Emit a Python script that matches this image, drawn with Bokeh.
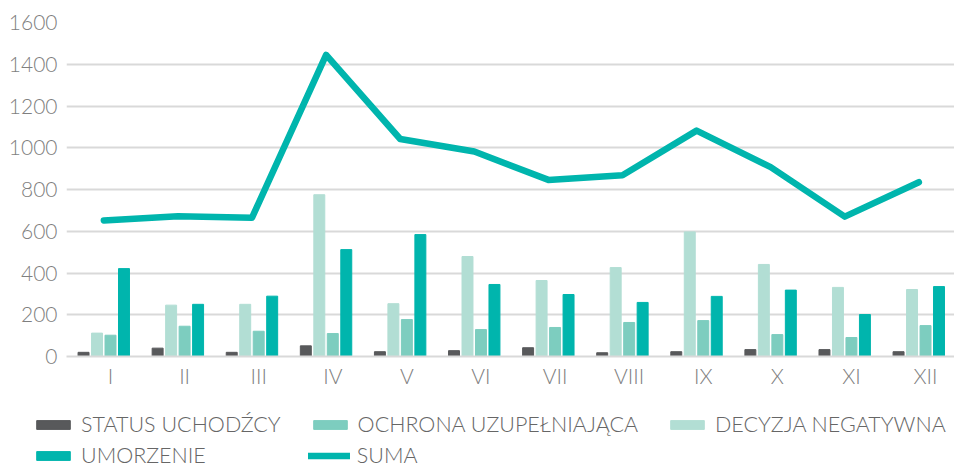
from bokeh.plotting import figure
from bokeh.layouts import column, row
from bokeh.models import Range1d, FixedTicker, Legend, LegendItem, ColumnDataSource
from bokeh.transform import dodge
from bokeh.embed import file_html
from bokeh.resources import INLINE

# ---- data ----
months = ["I", "II", "III", "IV", "V", "VI", "VII", "VIII", "IX", "X", "XI", "XII"]
status_uchodzcy = [20, 40, 20, 51, 23, 28, 42, 18, 23, 33, 33, 23]
decyzja_negatywna = [112, 246, 250, 775, 253, 479, 364, 426, 597, 441, 331, 321]
ochrona_uzupelniajaca = [102, 145, 121, 110, 177, 129, 139, 163, 172, 105, 91, 148]
umorzenie = [421, 250, 289, 512, 584, 345, 297, 259, 288, 318, 201, 335]
suma = [652, 672, 665, 1445, 1042, 982, 846, 868, 1082, 907, 670, 835]
y_ticks = [0, 200, 400, 600, 800, 1000, 1200, 1400, 1600]
series_labels = ["STATUS UCHODŹCY", "OCHRONA UZUPEŁNIAJĄCA", "DECYZJA NEGATYWNA",
                 "UMORZENIE", "SUMA"]

# ---- styles ----
C_STATUS = "#58595b"
C_OCHRONA = "#7dcdbf"
C_DECYZJA = "#b2ded4"
C_UMORZ = "#00b5ad"
GRID = "#d9d9d9"
FONT = "Lato Light, Lato"

xs = list(range(1, len(months) + 1))
src = ColumnDataSource(dict(
    x=xs, status=status_uchodzcy, decyzja=decyzja_negatywna,
    ochrona=ochrona_uzupelniajaca, umorz=umorzenie, suma=suma,
))

p = figure(width=954, height=400, output_backend="svg", toolbar_location=None,
           x_range=Range1d(0.406, 12.391), y_range=Range1d(0, 1600),
           min_border_left=66, min_border_right=0, min_border_top=22,
           min_border_bottom=44)
p.outline_line_color = None
p.background_fill_color = "white"
p.border_fill_color = "white"

bw = 0.148
slot = 0.182
p.vbar(x=dodge("x", -2 * slot, range=p.x_range), top="status", width=bw,
       source=src, color=C_STATUS)
p.vbar(x=dodge("x", -slot, range=p.x_range), top="decyzja", width=bw,
       source=src, color=C_DECYZJA)
p.vbar(x=dodge("x", 0, range=p.x_range), top="ochrona", width=bw,
       source=src, color=C_OCHRONA)
p.vbar(x=dodge("x", slot, range=p.x_range), top="umorz", width=bw,
       source=src, color=C_UMORZ)
p.line(x=dodge("x", -0.09, range=p.x_range), y="suma", source=src,
       line_color=C_UMORZ, line_width=6.5, line_cap="round", line_join="round")

# axes
p.xgrid.grid_line_color = None
p.ygrid.ticker = FixedTicker(ticks=y_ticks)
p.ygrid.grid_line_color = GRID
p.ygrid.grid_line_width = 2

p.yaxis.ticker = FixedTicker(ticks=y_ticks)
p.yaxis.axis_line_color = None
p.yaxis.major_tick_line_color = None
p.yaxis.minor_tick_line_color = None
p.yaxis.major_label_text_font = FONT
p.yaxis.major_label_text_font_size = "21px"
p.yaxis.major_label_text_color = "#7f7f7f"
p.yaxis.major_label_standoff = 3

p.xaxis.ticker = FixedTicker(ticks=xs)
p.xaxis.major_label_overrides = {x: m for x, m in zip(xs, months)}
p.xaxis.axis_line_color = GRID
p.xaxis.axis_line_width = 2
p.xaxis.major_tick_line_color = None
p.xaxis.minor_tick_line_color = None
p.xaxis.major_label_text_font = FONT
p.xaxis.major_label_text_font_size = "21px"
p.xaxis.major_label_text_color = "#7f7f7f"
p.xaxis.major_label_standoff = 0

# ---- legend strip (separate figure below the chart; its ranges keep the
# legend renderers out of view so only the legend itself shows) ----
lp = figure(width=954, height=68, output_backend="svg", toolbar_location=None,
            x_range=Range1d(-2, -1), y_range=Range1d(-2, -1),
            x_axis_location=None, y_axis_location=None,
            min_border=0, min_border_left=0, min_border_right=0,
            min_border_top=0, min_border_bottom=0)
lp.grid.visible = False
lp.outline_line_color = None
lp.background_fill_color = "white"
lp.border_fill_color = "white"

l_status = lp.vbar(x="x", top="status", width=bw, source=src, color=C_STATUS)
l_ochrona = lp.vbar(x="x", top="ochrona", width=bw, source=src, color=C_OCHRONA)
l_decyzja = lp.vbar(x="x", top="decyzja", width=bw, source=src, color=C_DECYZJA)
l_umorz = lp.vbar(x="x", top="umorz", width=bw, source=src, color=C_UMORZ)
l_suma = lp.line(x="x", y="suma", source=src, line_color=C_UMORZ, line_width=6.5,
                 line_cap="round")


def make_legend(items, loc, spacing):
    return Legend(items=items, location=loc, orientation="horizontal",
                  spacing=spacing, glyph_width=42, glyph_height=11,
                  label_standoff=7, label_text_font=FONT,
                  label_text_font_size="21.5px", label_text_color="#666666",
                  background_fill_alpha=0, border_line_color=None,
                  padding=0, margin=0, label_height=22)


leg1 = make_legend([
    LegendItem(label=series_labels[0], renderers=[l_status]),
    LegendItem(label=series_labels[1], renderers=[l_ochrona]),
    LegendItem(label=series_labels[2], renderers=[l_decyzja]),
], (32, 31), 28)
leg2 = make_legend([
    LegendItem(label=series_labels[3], renderers=[l_umorz]),
    LegendItem(label=series_labels[4], renderers=[l_suma]),
], (32, 0), 102)
lp.add_layout(leg1, "center")
lp.add_layout(leg2, "center")

layout = column(p, row(lp, spacing=0), spacing=0)
open("out.html", "w").write(file_html(layout, INLINE))
